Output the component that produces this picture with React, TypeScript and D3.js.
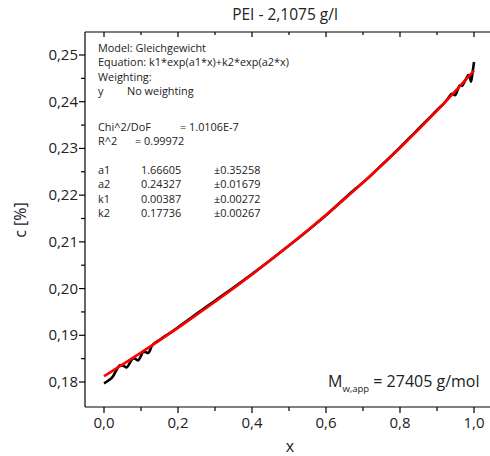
import React from "react";
import * as d3 from "d3";

const title = "PEI - 2,1075 g/l";
const xTicks = [0, 0.2, 0.4, 0.6, 0.8, 1.0];
const yTicks = [0.18, 0.19, 0.2, 0.21, 0.22, 0.23, 0.24, 0.25];

// measured data (black)
const dataX = [0, 0.012, 0.024, 0.034, 0.043, 0.052, 0.061, 0.07, 0.079, 0.086, 0.092, 0.1, 0.106, 0.112, 0.119, 0.13, 0.15, 0.18, 0.21, 0.25, 0.3, 0.35, 0.4, 0.45, 0.5, 0.55, 0.6, 0.65, 0.68, 0.7, 0.75, 0.8, 0.84, 0.87, 0.89, 0.905, 0.917, 0.93, 0.94, 0.949, 0.956, 0.962, 0.968, 0.975, 0.98, 0.985, 0.989, 0.992, 0.995, 0.998, 1.0];
const dataY = [0.1797, 0.1803, 0.1812, 0.1826, 0.1836, 0.1835, 0.1831, 0.1841, 0.1851, 0.1849, 0.1846, 0.1856, 0.1865, 0.1864, 0.1862, 0.1878, 0.1890, 0.1906, 0.1923, 0.1946, 0.1974, 0.2002, 0.2031, 0.2061, 0.2092, 0.2124, 0.2157, 0.2193, 0.2214, 0.2227, 0.2264, 0.2302, 0.2334, 0.2358, 0.2374, 0.2386, 0.2395, 0.2407, 0.2417, 0.2414, 0.2426, 0.2435, 0.2434, 0.2444, 0.2451, 0.2457, 0.2453, 0.2443, 0.2456, 0.2473, 0.2485];

// fitted curve (red), read at 0.1 steps
const fitX = [0, 0.1, 0.2, 0.3, 0.4, 0.5, 0.6, 0.7, 0.8, 0.9, 1.0];
const fitY = [0.18123, 0.1863, 0.1916, 0.19717, 0.20302, 0.2092, 0.21575, 0.22271, 0.23013, 0.2381, 0.24668];

const infoLines = [
  ["Model: Gleichgewicht"],
  ["Equation: k1*exp(a1*x)+k2*exp(a2*x)"],
  ["Weighting:"],
  ["y", "No weighting"],
];
const statNames = ["Chi^2/DoF", "R^2"];
const statVals = ["= 1.0106E-7", "=  0.99972"];
const paramNames = ["a1", "a2", "k1", "k2"];
const paramVals = ["1.66605", "0.24327", "0.00387", "0.17736"];
const paramErrs = ["±0.35258", "±0.01679", "±0.00272", "±0.00267"];

export default function App() {
  const W = 490, H = 456;
  const left = 85, right = 496, top = 32, bottom = 407;
  const x = d3.scaleLinear().domain([0, 1]).range([104, 474]);
  const y = d3.scaleLinear().domain([0.18, 0.25]).range([382, 55]);
  const font = "'Open Sans', 'Noto Sans', sans-serif";
  const xMinor = d3.range(0, 11).map((i) => i / 10);
  const yMinor = d3.range(0, 15).map((i) => 0.18 + i * 0.005);
  const dataPath = d3.line<[number, number]>().curve(d3.curveMonotoneX)(dataX.map((v, i) => [x(v), y(dataY[i])]));
  const fitPath = d3.line<[number, number]>().curve(d3.curveCatmullRom)(fitX.map((v, i) => [x(v), y(fitY[i])]));
  const fmt = (v: number, d: number) => v.toFixed(d).replace(".", ",");
  const tx = 98;
  const fs = 10.9;
  const txt = "#222";
  return (
    <svg width={W} height={H} style={{ position: "absolute", left: 0, top: 0, background: "#fff" }} fontFamily={font}>
      <rect width={W} height={H} fill="#fff" />
      <text x={285} y={20} textAnchor="middle" fontSize={15.5} fill={txt}>{title}</text>
      <line x1={left} x2={right} y1={top} y2={top} stroke="#000" strokeWidth={1.2} />
      <line x1={left} x2={right} y1={bottom} y2={bottom} stroke="#000" strokeWidth={1.2} />
      <line x1={left} x2={left} y1={top} y2={bottom} stroke="#000" strokeWidth={1.2} />
      {xMinor.map((v, i) => (
        <g key={"xt" + i}>
          <line x1={x(v)} x2={x(v)} y1={bottom} y2={bottom + (i % 2 === 0 ? 6 : 4)} stroke="#000" strokeWidth={1.2} />
          <line x1={x(v)} x2={x(v)} y1={top} y2={top + (i % 2 === 0 ? 5 : 3)} stroke="#000" strokeWidth={1.2} />
        </g>
      ))}
      {xTicks.map((v, i) => (
        <text key={"xl" + i} x={x(v)} y={428} textAnchor="middle" fontSize={15} fill={txt}>{fmt(v, 1)}</text>
      ))}
      {yMinor.map((v, i) => (
        <line key={"yt" + i} x1={left} x2={left - (i % 2 === 0 ? 6 : 4)} y1={y(v)} y2={y(v)} stroke="#000" strokeWidth={1.2} />
      ))}
      {yTicks.map((v, i) => (
        <text key={"yl" + i} x={78} y={y(v) + 5} textAnchor="end" fontSize={15} fill={txt}>{fmt(v, 2)}</text>
      ))}
      <text x={290} y={452} textAnchor="middle" fontSize={16} fill={txt}>x</text>
      <text transform="translate(26,220) rotate(-90)" textAnchor="middle" fontSize={16} fill={txt}>c [%]</text>
      <g fontSize={fs} fill={txt}>
        {infoLines.map((l, i) => (
          <g key={"il" + i}>
            <text x={tx} y={52 + i * 14.3}>{l[0]}</text>
            {l[1] && <text x={127} y={52 + i * 14.3}>{l[1]}</text>}
          </g>
        ))}
        {statNames.map((s, i) => (
          <g key={"st" + i}>
            <text x={tx} y={131 + i * 14.3}>{s}</text>
            <text x={i === 0 ? 180 : 135} y={131 + i * 14.3}>{statVals[i]}</text>
          </g>
        ))}
        {paramNames.map((s, i) => (
          <g key={"pn" + i}>
            <text x={tx} y={174 + i * 14.3}>{s}</text>
            <text x={141} y={174 + i * 14.3}>{paramVals[i]}</text>
            <text x={214} y={174 + i * 14.3}>{paramErrs[i]}</text>
          </g>
        ))}
      </g>
      <path d={dataPath || ""} fill="none" stroke="#000" strokeWidth={2.6} strokeLinejoin="round" />
      <path d={fitPath || ""} fill="none" stroke="#ff0000" strokeWidth={2.6} />
      <text x={328} y={387} fontSize={16} fill={txt}>
        M<tspan fontSize={9.5} dy={5}>w,app</tspan><tspan dy={-5}> = 27405 g/mol</tspan>
      </text>
    </svg>
  );
}
